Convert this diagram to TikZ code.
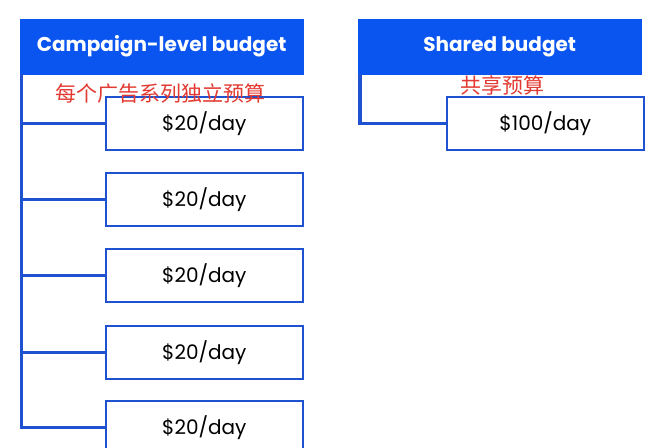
\documentclass[tikz,border=0pt]{standalone}
\usepackage{fontspec}
\setmainfont{Poppins}
\newfontfamily\cjk{Noto Sans CJK SC}
\definecolor{hdrblue}{HTML}{0A55F0}
\definecolor{lineblue}{HTML}{1F52D0}
\definecolor{cnred}{HTML}{E23A32}
\begin{document}
\begin{tikzpicture}[x=1pt,y=-1pt,
  header/.style={draw=hdrblue,fill=hdrblue,text=white,font=\fontsize{20}{22}\selectfont\bfseries,minimum width=283pt,minimum height=55pt,anchor=north west,inner sep=0pt},
  budgetbox/.style={draw=lineblue,line width=1.6pt,fill=white,minimum width=197pt,minimum height=53pt,anchor=north west,inner sep=0pt,font=\fontsize{20}{22}\selectfont},
  link/.style={draw=lineblue,line width=3.2pt},
  note/.style={text=cnred,font=\cjk\fontsize{21}{23}\selectfont,inner sep=0pt}]
\useasboundingbox (0,0) rectangle (666,447);
\clip (0,0) rectangle (666,447);
% left column
\node[header] (h1) at (20,19) {Campaign-level budget};
\coordinate (v1) at (21.5,74);
\foreach \i/\y in {1/96,2/172,3/248,4/325,5/400}{
  \node[budgetbox] (b\i) at (105,\y) {\$20/day};
}
\draw[link] (v1) |- (b5.west);
\foreach \i in {1,2,3,4}{
  \draw[link] (v1 |- b\i.west) -- (b\i.west);
}
\node[note] (n1) at (160,94) {每个广告系列独立预算};
% right column
\node[header] (h2) at (358,19) {Shared budget};
\coordinate (v2) at (360,74);
\node[budgetbox] (r1) at (446,96) {\$100/day};
\draw[link] (v2) |- (r1.west);
\node[note] (n2) at (502,85) {共享预算};
\end{tikzpicture}
\end{document}
